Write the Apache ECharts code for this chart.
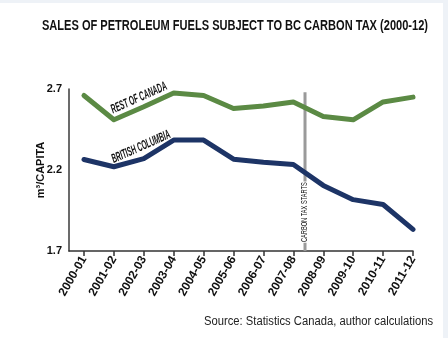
<!DOCTYPE html>
<html>
<head>
<meta charset="utf-8">
<script src="https://cdn.jsdelivr.net/npm/echarts@6/dist/echarts.min.js"></script>
<style>
  html, body { margin: 0; padding: 0; background: #eef2f7; }
  #chart { position: absolute; left: 0; top: 3px; width: 443px; height: 335px; background: #ffffff; }
</style>
</head>
<body>
<div id="chart"></div>
<script>
// Fiscal years on the horizontal axis
const years = ['2000-01','2001-02','2002-03','2003-04','2004-05','2005-06',
               '2006-07','2007-08','2008-09','2009-10','2010-11','2011-12'];
// Sales of petroleum fuels, m3 per capita
const restOfCanada = [2.66, 2.51, 2.59, 2.675, 2.66, 2.58, 2.595, 2.62, 2.53, 2.51, 2.62, 2.65];
const britishColumbia = [2.265, 2.22, 2.27, 2.385, 2.385, 2.267, 2.248, 2.234, 2.105, 2.017, 1.987, 1.833];
// Y tick labels
const yTicks = [1.7, 2.2, 2.7];
// Carbon tax introduced partway through 2008-09 (year index position)
const taxStart = 7.39;
const taxLineTop = 2.68;
const taxLabelAt = 1.94;

const sans = '"Liberation Sans", Arial, sans-serif';
// Years sit at half-step positions so the axis start is at x = 0
const HALF = 0.5;
const xPos = years.map((_, i) => i + HALF);

// Horizontal squeeze factor so a text run fits a given width (condensed look)
const measureCtx = document.createElement('canvas').getContext('2d');
function squeeze(text, font, width) {
  measureCtx.font = font;
  return width / measureCtx.measureText(text).width;
}

const titleText = 'SALES OF PETROLEUM FUELS SUBJECT TO BC CARBON TAX (2000-12)';
const rocText = 'REST OF CANADA';
const bcText = 'BRITISH COLUMBIA';
const taxText = 'CARBON TAX STARTS';
const sourceText = 'Source: Statistics Canada, author calculations';

const chart = echarts.init(document.getElementById('chart'), null, { renderer: 'canvas' });
chart.setOption({
  animation: false,
  grid: { left: 69, right: 30, top: 86, bottom: 87 },
  xAxis: {
    type: 'value', min: 0, max: 11.5,
    splitLine: { show: false },
    axisLine: { show: true, lineStyle: { color: '#333', width: 1.5 } },
    axisTick: { show: true, length: 5, customValues: xPos, lineStyle: { color: '#333', width: 1.5 } },
    axisLabel: {
      customValues: xPos,
      formatter: v => years[Math.round(v - HALF)],
      rotate: 60, fontFamily: sans, fontWeight: 'bold', fontSize: 12, color: '#111', margin: 6
    }
  },
  yAxis: {
    type: 'value', min: 1.7, max: 2.7,
    position: 'left',
    name: 'm³/CAPITA', nameLocation: 'middle', nameGap: 23, nameRotate: 90,
    nameMoveOverlap: false,
    nameTextStyle: { fontFamily: sans, fontWeight: 'bold', fontSize: 11, color: '#111' },
    splitLine: { show: false },
    axisLine: { show: true, onZero: false, lineStyle: { color: '#3a3a3a', width: 1.5 } },
    axisTick: { show: false },
    axisLabel: {
      customValues: yTicks,
      formatter: v => v.toFixed(1),
      fontFamily: sans, fontWeight: 'bold', fontSize: 11, color: '#111', margin: 7
    }
  },
  series: [
    {
      name: 'Carbon tax',
      type: 'line',
      data: [[taxStart + HALF, 1.7], [taxStart + HALF, taxLineTop]],
      symbol: 'none', z: 1,
      lineStyle: { color: '#9a9a9a', width: 3 }
    },
    {
      name: 'Rest of Canada',
      type: 'line',
      data: restOfCanada.map((v, i) => [xPos[i], v]),
      symbol: 'none', z: 3,
      lineStyle: { color: '#5b8a44', width: 5, cap: 'round', join: 'round' }
    },
    {
      name: 'British Columbia',
      type: 'line',
      data: britishColumbia.map((v, i) => [xPos[i], v]),
      symbol: 'none', z: 3,
      lineStyle: { color: '#1d3466', width: 5, cap: 'round', join: 'round' }
    }
  ]
});

// Annotations: condensed-looking text drawn with a horizontal squeeze
const titleFont = 'bold 14px ' + sans;
const labelFont = 'italic bold 13px ' + sans;
const taxFont = '9px ' + sans;
const srcFont = '12px ' + sans;
const taxPos = chart.convertToPixel({ gridIndex: 0 }, [taxStart + HALF, taxLabelAt]);

chart.setOption({
  graphic: [
    {
      type: 'text', x: 42, y: 23, scaleX: squeeze(titleText, titleFont, 386),
      style: { text: titleText, font: titleFont, fill: '#111', align: 'left', verticalAlign: 'middle' }
    },
    {
      type: 'text', x: 139, y: 95, rotation: 0.42, scaleX: squeeze(rocText, labelFont, 60),
      style: { text: rocText, font: labelFont, fill: '#111', align: 'center', verticalAlign: 'middle' }
    },
    {
      type: 'text', x: 141, y: 144, rotation: 0.42, scaleX: squeeze(bcText, labelFont, 63),
      style: { text: bcText, font: labelFont, fill: '#111', align: 'center', verticalAlign: 'middle' }
    },
    {
      type: 'text', x: taxPos[0], y: taxPos[1], rotation: Math.PI / 2, z: 10,
      scaleX: squeeze(taxText, taxFont, 60),
      style: {
        text: taxText, font: taxFont, fill: '#111', align: 'center', verticalAlign: 'middle',
        backgroundColor: '#ffffff', padding: [1, 1]
      }
    },
    {
      type: 'text', x: 433, y: 319, scaleX: squeeze(sourceText, srcFont, 229),
      style: { text: sourceText, font: srcFont, fill: '#222', align: 'right', verticalAlign: 'middle' }
    }
  ]
});
</script>
</body>
</html>
